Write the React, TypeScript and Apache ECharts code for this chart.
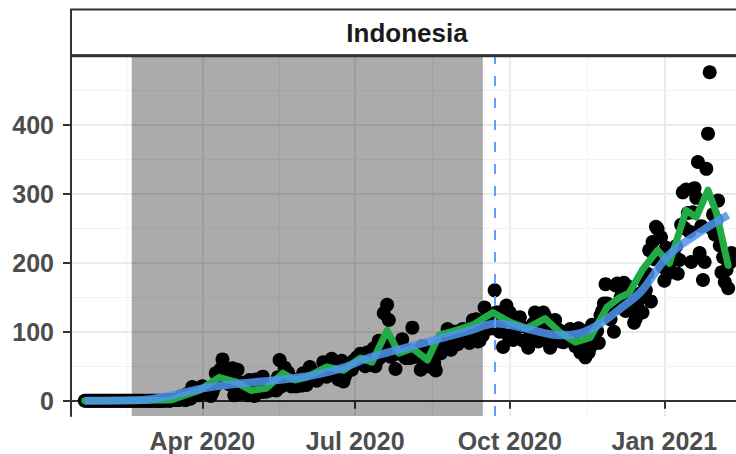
import React, { useEffect, useRef } from 'react';
import * as echarts from 'echarts';

// ---- Daily deaths (Indonesia), starting 2020-01-22 ----
const deathsJan2020 = [0, 0, 0, 0, 0, 0, 0, 0, 0, 0];
const deathsFeb2020 = [0, 0, 0, 0, 0, 0, 0, 0, 0, 0, 0, 0, 0, 0, 0, 0, 0, 0, 0, 0, 0, 0, 0, 0, 0, 0, 0, 0, 0];
const deathsMar2020 = [0, 0, 0, 0, 0, 0, 0, 0, 0, 0, 1, 0, 0, 1, 1, 1, 2, 1, 6, 7, 6, 1, 10, 7, 3, 20, 9, 15, 12, 8, 14];
const deathsApr2020 = [21, 13, 13, 11, 10, 7, 12, 19, 40, 26, 26, 46, 60, 40, 39, 27, 24, 38, 47, 8, 43, 45, 10, 12, 26, 11, 22, 8, 30, 9];
const deathsMay2020 = [19, 7, 31, 21, 22, 13, 35, 13, 16, 14, 16, 18, 16, 22, 15, 34, 59, 21, 24, 48, 36, 41, 35, 21, 29, 22, 21, 27, 25, 22, 40];
const deathsJun2020 = [32, 23, 37, 49, 43, 30, 31, 29, 32, 36, 41, 56, 48, 35, 37, 54, 61, 42, 45, 36, 31, 34, 58, 28, 36, 50, 51, 48, 45, 58];
const deathsJul2020 = [53, 63, 59, 68, 66, 61, 50, 70, 58, 52, 65, 76, 50, 58, 87, 63, 76, 127, 80, 139, 117, 64, 66, 75, 46, 69, 74, 68, 89, 74, 62];
const deathsAug2020 = [62, 73, 62, 106, 66, 64, 65, 74, 45, 79, 57, 64, 65, 70, 49, 58, 55, 44, 79, 79, 69, 83, 85, 82, 104, 86, 74, 93, 100, 85, 82];
const deathsSep2020 = [101, 100, 104, 99, 96, 97, 84, 106, 117, 98, 118, 86, 87, 113, 95, 135, 114, 124, 105, 105, 118, 160, 128, 128, 100, 112, 78, 117, 138, 95];
const deathsOct2020 = [128, 116, 88, 96, 106, 108, 121, 108, 87, 86, 87, 77, 101, 91, 112, 128, 89, 86, 103, 95, 128, 123, 118, 87, 77, 102, 100, 117, 91, 103, 86];
const deathsNov2020 = [100, 85, 88, 99, 91, 104, 89, 85, 79, 88, 105, 70, 86, 101, 63, 71, 70, 78, 110, 92, 100, 101, 84, 124, 130, 141, 169, 141, 130, 118];
const deathsDec2020 = [136, 100, 167, 170, 135, 150, 155, 171, 130, 134, 165, 135, 153, 113, 119, 136, 147, 156, 128, 172, 160, 184, 218, 144, 230, 205, 252, 249, 207, 237, 194];
const deathsJan2021 = [174, 222, 185, 197, 186, 214, 210, 224, 184, 204, 255, 302, 250, 306, 272, 245, 201, 273, 308, 294, 346, 214, 253, 175, 201, 336, 387, 476, 250, 270, 241];
const deathsFeb2021 = [262, 290, 225, 186, 208, 172, 190, 163, 200, 214];

// ---- Green (periodic average) line ----
const greenDates = [
  '2020-01-22', '2020-03-13', '2020-03-30', '2020-04-11', '2020-04-21', '2020-04-30', '2020-05-09',
  '2020-05-19', '2020-05-26', '2020-06-02', '2020-06-14', '2020-06-24', '2020-07-04', '2020-07-11',
  '2020-07-20', '2020-07-27', '2020-08-04', '2020-08-13', '2020-08-20', '2020-08-30', '2020-09-09',
  '2020-09-21', '2020-10-01', '2020-10-11', '2020-10-22', '2020-10-31', '2020-11-09', '2020-11-18',
  '2020-11-28', '2020-12-05', '2020-12-11', '2020-12-19', '2020-12-28', '2021-01-04', '2021-01-14',
  '2021-01-20', '2021-01-27', '2021-02-01', '2021-02-08',
];
const greenValues = [
  0, 1, 15, 34, 27, 15, 18,
  40, 30, 34, 49, 44, 62, 56,
  102, 69, 76, 59, 95, 102, 110,
  128, 114, 105, 119, 99, 85, 92,
  136, 149, 156, 190, 218, 199, 276,
  266, 305, 272, 196,
];

// ---- Blue (smoothed trend) line ----
const blueDates = [
  '2020-01-22', '2020-02-25', '2020-03-12', '2020-03-30', '2020-04-19', '2020-05-19', '2020-06-08',
  '2020-06-24', '2020-07-10', '2020-07-28', '2020-08-17', '2020-09-06', '2020-09-23', '2020-10-10',
  '2020-10-31', '2020-11-12', '2020-11-24', '2020-12-06', '2020-12-18', '2021-01-04', '2021-01-24',
  '2021-02-08',
];
const blueValues = [
  0, 1, 7, 17, 24, 31, 38,
  48, 63, 75, 88, 101, 112, 105,
  95, 98, 112, 134, 158, 212, 247,
  269,
];

// ---- Axes ----
const yTicks = [0, 100, 200, 300, 400];
const yMinor = [50, 150, 250, 350, 450];
const xTickDates = ['2020-04-01', '2020-07-01', '2020-10-01', '2021-01-01'];
const xTickLabels = ['Apr 2020', 'Jul 2020', 'Oct 2020', 'Jan 2021'];
const xMinorDates = ['2020-02-15T12', '2020-05-16T12', '2020-08-16', '2020-11-16'];
const shadeStart = '2020-02-19';
const shadeEnd = '2020-09-15';
const dashDate = '2020-09-22';
const firstDay = '2020-01-22';
const xMinDate = '2020-01-13T20';
const xMaxDate = '2021-02-12T16';
const yMin = -22;
const yMax = 498;
const facetTitle = 'Indonesia';

const toTime = (s: string) => {
  const [d, h] = s.split('T');
  const [y, m, dd] = d.split('-').map(Number);
  return new Date(y, m - 1, dd, h ? Number(h) : 0).getTime();
};

export default function App() {
  const ref = useRef<HTMLDivElement>(null);
  useEffect(() => {
    document.body.style.margin = '0';
    if (!ref.current) return;
    const chart = echarts.init(ref.current, undefined, { renderer: 'svg' });

    const all = [
      ...deathsJan2020, ...deathsFeb2020, ...deathsMar2020, ...deathsApr2020, ...deathsMay2020,
      ...deathsJun2020, ...deathsJul2020, ...deathsAug2020, ...deathsSep2020, ...deathsOct2020,
      ...deathsNov2020, ...deathsDec2020, ...deathsJan2021, ...deathsFeb2021,
    ];
    const fd = new Date(toTime(firstDay));
    const points = all.map((v, i) => [
      new Date(fd.getFullYear(), fd.getMonth(), fd.getDate() + i).getTime(),
      v,
    ]);
    const green = greenDates.map((d, i) => [toTime(d), greenValues[i]]);
    const blue = blueDates.map((d, i) => [toTime(d), blueValues[i]]);
    const xTicks = xTickDates.map(toTime);

    const gridLines: any[] = [
      ...xTicks.map((t) => ({ xAxis: t, lineStyle: { color: '#EBEBEB', width: 2, type: 'solid' } })),
      ...xMinorDates.map((d) => ({ xAxis: toTime(d), lineStyle: { color: '#F2F2F2', width: 1.2, type: 'solid' } })),
      ...yTicks.map((v) => ({ yAxis: v, lineStyle: { color: '#EBEBEB', width: 2, type: 'solid' } })),
      ...yMinor.map((v) => ({ yAxis: v, lineStyle: { color: '#F2F2F2', width: 1.2, type: 'solid' } })),
    ];

    const labelFont = {
      fontFamily: '"Liberation Sans", Arial, sans-serif',
      fontWeight: 'bold' as const,
      fontSize: 25,
      color: '#4D4D4D',
    };

    chart.setOption({
      animation: false,
      grid: { left: 71, right: 0, top: 57, bottom: 38, containLabel: false },
      xAxis: {
        type: 'value',
        min: toTime(xMinDate),
        max: toTime(xMaxDate),
        axisLine: { show: true, lineStyle: { color: '#333333', width: 2 } },
        axisTick: { show: true, length: 8, lineStyle: { color: '#333333', width: 2 }, customValues: xTicks },
        axisLabel: {
          ...labelFont,
          margin: 12,
          customValues: xTicks,
          formatter: (v: number) => {
            const i = xTicks.indexOf(v);
            return i >= 0 ? xTickLabels[i] : '';
          },
        },
        splitLine: { show: false },
      },
      yAxis: {
        type: 'value',
        min: yMin,
        max: yMax,
        axisLine: { show: true, lineStyle: { color: '#333333', width: 2 } },
        axisTick: { show: true, length: 8, lineStyle: { color: '#333333', width: 2 }, customValues: yTicks },
        axisLabel: { ...labelFont, margin: 17, customValues: yTicks },
        splitLine: { show: false },
      },
      graphic: [
        {
          type: 'rect',
          z: 100,
          shape: { x: 71, y: 9.5, width: 700, height: 46 },
          style: { fill: '#FFFFFF', stroke: '#333333', lineWidth: 2 },
        },
        {
          type: 'line',
          z: 101,
          shape: { x1: 70, y1: 55.8, x2: 760, y2: 55.8 },
          style: { stroke: '#333333', lineWidth: 3 },
        },
        {
          type: 'text',
          z: 102,
          x: 407,
          y: 33,
          style: {
            text: facetTitle,
            font: 'bold 26px "Liberation Sans", Arial, sans-serif',
            fill: '#1A1A1A',
            textAlign: 'center',
            textVerticalAlign: 'middle',
            align: 'center',
            verticalAlign: 'middle',
          },
        },
      ],
      series: [
        {
          type: 'scatter',
          z: 2,
          data: points,
          symbol: 'circle',
          symbolSize: 14,
          itemStyle: { color: '#000000', opacity: 1 },
          silent: true,
          markLine: {
            silent: true,
            z: 0,
            symbol: ['none', 'none'],
            label: { show: false },
            emphasis: { disabled: true },
            data: gridLines,
          },
          markArea: {
            silent: true,
            z: 1,
            itemStyle: { color: 'rgba(0,0,0,0.33)' },
            label: { show: false },
            data: [[{ xAxis: toTime(shadeStart) }, { xAxis: toTime(shadeEnd) }]],
          },
        },
        {
          type: 'line',
          z: 3,
          data: green,
          showSymbol: false,
          symbol: 'none',
          silent: true,
          lineStyle: { color: '#22AA44', width: 7, join: 'round', cap: 'round' },
        },
        {
          type: 'line',
          z: 4,
          data: blue,
          smooth: 0.35,
          showSymbol: false,
          symbol: 'none',
          silent: true,
          lineStyle: { color: 'rgba(79, 148, 238, 0.85)', width: 8, cap: 'butt' },
          markLine: {
            silent: true,
            z: 6,
            symbol: ['none', 'none'],
            label: { show: false },
            lineStyle: { color: '#619CFF', width: 2, type: [10, 12] },
            data: [{ xAxis: toTime(dashDate) }],
          },
        },
      ],
    });
    return () => chart.dispose();
  }, []);
  return <div ref={ref} style={{ width: 736, height: 454 }} />;
}
